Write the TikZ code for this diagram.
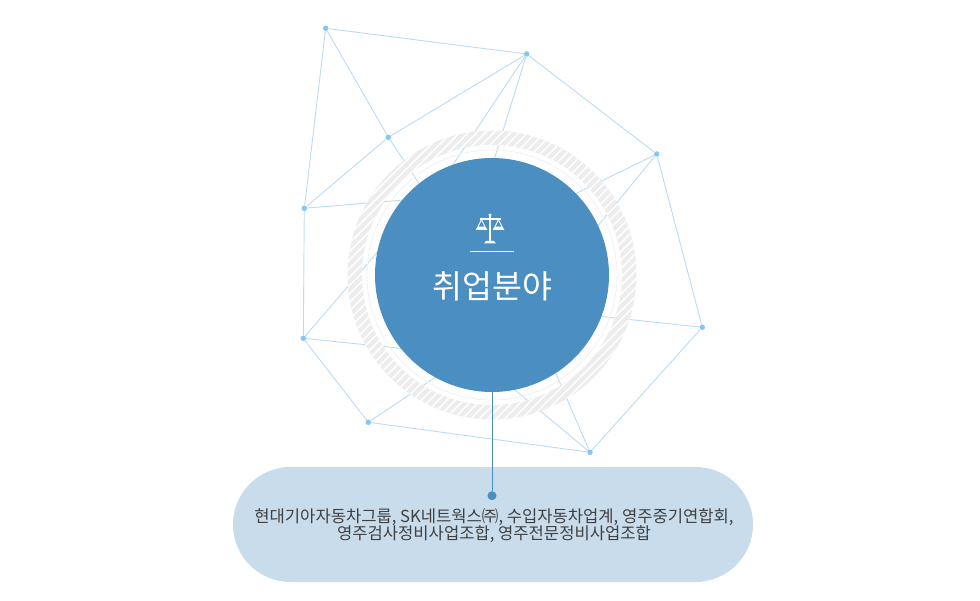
\documentclass[tikz,border=0pt]{standalone}
\usepackage{fontspec}
\setmainfont{Noto Sans CJK KR}
\usetikzlibrary{patterns.meta}
\definecolor{netline}{HTML}{BCDBF0}
\definecolor{netdot}{HTML}{86C6F2}
\definecolor{mainblue}{HTML}{4B8FC2}
\definecolor{ringgray}{HTML}{EBEBEB}
\definecolor{pillblue}{HTML}{C8DCEC}
\definecolor{txtgray}{HTML}{404040}
\tikzset{
  netdotnode/.style={circle, fill=netdot, inner sep=0pt, minimum size=5.5pt},
  net/.style={draw=netline, line width=0.9pt},
  maincircle/.style={circle, fill=mainblue, inner sep=0pt, minimum size=234pt},
  pillnode/.style={fill=pillblue, rounded corners=57.5pt, minimum width=520pt, minimum height=115pt, inner sep=0pt},
  conn/.style={draw=mainblue, line width=1pt},
  conndot/.style={circle, fill=mainblue, inner sep=0pt, minimum size=9pt},
  iconline/.style={draw=white, line width=1.1pt}
}
\begin{document}
\begin{tikzpicture}[x=1pt,y=-1pt]
\useasboundingbox (0,0) rectangle (980,601);
% outer network nodes
\node[netdotnode] (A) at (325.7,28.3) {};
\node[netdotnode] (B) at (526.7,54) {};
\node[netdotnode] (C) at (388.3,137.3) {};
\node[netdotnode] (D) at (304.3,208.3) {};
\node[netdotnode] (E) at (656.7,154) {};
\node[netdotnode] (F) at (303.3,338.3) {};
\node[netdotnode] (G) at (702.3,327.3) {};
\node[netdotnode] (H) at (368.3,422.3) {};
\node[netdotnode] (I) at (590,452.3) {};
% hidden inner end points
\coordinate (b1) at (407.8,232.7);
\coordinate (b2) at (475.2,221);
\coordinate (c1) at (434,206);
\coordinate (d1) at (448.3,196.3);
\coordinate (e1) at (534,214);
\coordinate (e2) at (577.3,251);
\coordinate (f1) at (448.4,353.3);
\coordinate (f2) at (396.5,230);
\coordinate (g1) at (583.5,314.6);
\coordinate (h1) at (488,342);
\coordinate (i1) at (540,336.4);
\coordinate (i2) at (492.5,371.3);
% network edges
\draw[net] (A) -- (B);
\draw[net] (A) -- (C);
\draw[net] (A) -- (D);
\draw[net] (B) -- (C);
\draw[net] (B) -- (E);
\draw[net] (C) -- (D);
\draw[net] (D) -- (F);
\draw[net] (E) -- (G);
\draw[net] (F) -- (H);
\draw[net] (H) -- (I);
\draw[net] (G) -- (I);
\draw[net] (B) -- (b1);
\draw[net] (B) -- (b2);
\draw[net] (C) -- (c1);
\draw[net] (D) -- (d1);
\draw[net] (E) -- (e1);
\draw[net] (E) -- (e2);
\draw[net] (F) -- (f1);
\draw[net] (F) -- (f2);
\draw[net] (G) -- (g1);
\draw[net] (H) -- (h1);
\draw[net] (I) -- (i1);
\draw[net] (I) -- (i2);
% hatched ring
\coordinate (O) at (492,275);
\fill[ringgray, fill opacity=0.9, even odd rule] (O) circle[radius=144.5pt] (O) circle[radius=130pt];
\fill[pattern={Lines[angle=45, distance=6pt, line width=1.5pt]}, pattern color=white, even odd rule] (O) circle[radius=144.5pt] (O) circle[radius=130pt];
\draw[ringgray!70!white, line width=0.8pt] (O) circle[radius=125pt];
% pill
\node[pillnode] (P) at (493,524.5) {};
\node[font=\fontsize{16.6pt}{17.5pt}\selectfont, text=txtgray, align=center] (PT) at (494,525.5) {현대기아자동차그룹, SK네트웍스㈜, 수입자동차업계, 영주중기연합회,\\영주검사정비사업조합, 영주전문정비사업조합};
% main circle
\node[maincircle] (M) at (O) {};
\node[conndot] (Q) at (492,495.7) {};
\draw[conn] (M.south) -- (Q);
% scale icon
\draw[iconline] (490,216) -- (490,241.5);
\fill[white] (486,241) -- (494,241) -- (496,243.5) -- (484,243.5) -- cycle;
\fill[white] (490,215) circle[radius=1.6pt];
\draw[iconline] (479.5,219) -- (500.5,219);
\draw[white, line width=0.9pt] (476.5,230) -- (481.5,219.5) -- (486.5,230);
\draw[white, line width=0.9pt] (493.5,230) -- (498.5,219.5) -- (503.5,230);
\fill[white] (475.5,230) arc[start angle=180, end angle=360, x radius=6pt, y radius=-3.5pt] -- cycle;
\fill[white] (492.5,230) arc[start angle=180, end angle=360, x radius=6pt, y radius=-3.5pt] -- cycle;
\draw[white, line width=1pt] (470,251.7) -- (514,251.7);
\node[font=\fontsize{32.5pt}{34pt}\selectfont, text=white] (T) at (492.5,286) {취업분야};
\end{tikzpicture}
\end{document}
